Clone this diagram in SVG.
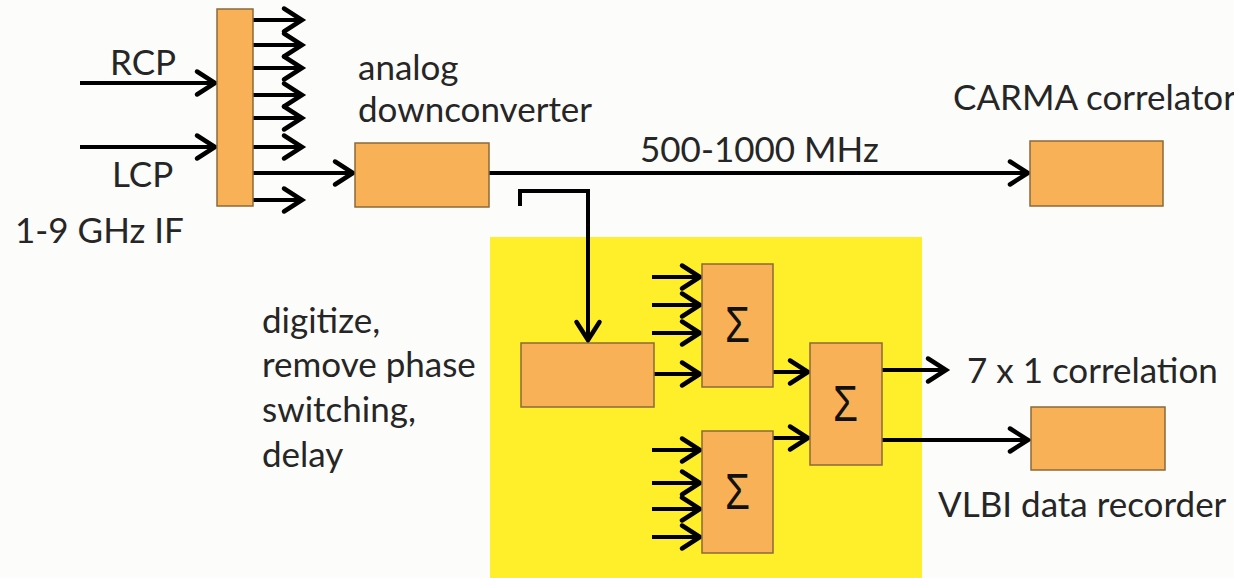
<svg xmlns="http://www.w3.org/2000/svg" width="1234" height="578" viewBox="0 0 1234 578">
<style>
.box{fill:#F9B157;stroke:#8a6a3a;stroke-width:1.5}
.ln{fill:none;stroke:#000;stroke-width:4}
.arr{marker-end:url(#ah)}
.t{font-family:Lato,"Liberation Sans",sans-serif;font-size:35px;fill:#262626}
.sig{font-family:"Liberation Sans",sans-serif;font-size:50px;fill:#111}
</style>
<defs>
<marker id="ah" viewBox="0 0 24 28" refX="20" refY="14" markerWidth="24" markerHeight="28" markerUnits="userSpaceOnUse" orient="auto" overflow="visible">
<path d="M2,2.5 L20,14 L2,25.5" fill="none" stroke="#000" stroke-width="4.5" stroke-linecap="round"/>
</marker>
</defs>
<rect x="0" y="0" width="1234" height="578" fill="#FCFCFA"/>
<rect id="digital-area" x="490" y="237" width="432" height="341" fill="#FFEF2B"/>

<g id="labels">
<text class="t" x="110" y="75">RCP</text>
<text class="t" x="112" y="187">LCP</text>
<text class="t" x="15" y="243">1-9 GHz IF</text>
<text class="t" x="358" y="80">analog</text>
<text class="t" x="358" y="122">downconverter</text>
<text class="t" x="953" y="110">CARMA correlator</text>
<text class="t" x="640" y="162">500-1000 MHz</text>
<text class="t" x="262" y="333">digitize,</text>
<text class="t" x="262" y="377">remove phase</text>
<text class="t" x="262" y="422">switching,</text>
<text class="t" x="262" y="467">delay</text>
<text class="t" x="967" y="383">7 x 1 correlation</text>
<text class="t" x="938" y="517">VLBI data recorder</text>
</g>

<g id="connectors">
<line class="ln arr" x1="80" y1="83" x2="215" y2="83"/>
<line class="ln arr" x1="80" y1="147" x2="215" y2="147"/>
<line class="ln arr" x1="253" y1="20" x2="302" y2="20"/>
<line class="ln arr" x1="253" y1="45" x2="302" y2="45"/>
<line class="ln arr" x1="253" y1="68" x2="302" y2="68"/>
<line class="ln arr" x1="253" y1="95" x2="302" y2="95"/>
<line class="ln arr" x1="253" y1="118" x2="302" y2="118"/>
<line class="ln arr" x1="253" y1="147" x2="302" y2="147"/>
<line class="ln arr" x1="253" y1="200" x2="302" y2="200"/>
<line class="ln arr" x1="253" y1="173" x2="353" y2="173"/>
<line class="ln arr" x1="489" y1="173" x2="1028" y2="173"/>
<path class="ln arr" d="M520,206 V191 H588 V340"/>
<line class="ln arr" x1="652" y1="277" x2="700" y2="277"/>
<line class="ln arr" x1="652" y1="305" x2="700" y2="305"/>
<line class="ln arr" x1="652" y1="333" x2="700" y2="333"/>
<line class="ln arr" x1="654" y1="374" x2="700" y2="374"/>
<line class="ln arr" x1="652" y1="450" x2="700" y2="450"/>
<line class="ln arr" x1="652" y1="483" x2="700" y2="483"/>
<line class="ln arr" x1="652" y1="509" x2="700" y2="509"/>
<line class="ln arr" x1="652" y1="537" x2="700" y2="537"/>
<line class="ln arr" x1="773" y1="372" x2="808" y2="372"/>
<line class="ln arr" x1="773" y1="438" x2="808" y2="438"/>
<line class="ln arr" x1="882" y1="370" x2="946" y2="370"/>
<line class="ln arr" x1="882" y1="440" x2="1028" y2="440"/>
</g>

<g id="splitter"><rect class="box" x="217" y="9" width="36" height="197"/></g>
<g id="downconverter"><rect class="box" x="355" y="143" width="134" height="64"/></g>
<g id="carma"><rect class="box" x="1030" y="141" width="133" height="65"/></g>
<g id="digitizer"><rect class="box" x="521" y="343" width="133" height="64"/></g>
<g id="sum1"><rect class="box" x="702" y="264" width="71" height="123"/><text class="sig" x="725" y="342" textLength="25" lengthAdjust="spacingAndGlyphs">Σ</text></g>
<g id="sum2"><rect class="box" x="702" y="431" width="71" height="122"/><text class="sig" x="725" y="509" textLength="25" lengthAdjust="spacingAndGlyphs">Σ</text></g>
<g id="sum3"><rect class="box" x="810" y="343" width="72" height="122"/><text class="sig" x="833" y="421" textLength="25" lengthAdjust="spacingAndGlyphs">Σ</text></g>
<g id="vlbi"><rect class="box" x="1031" y="407" width="134" height="63"/></g>
</svg>
